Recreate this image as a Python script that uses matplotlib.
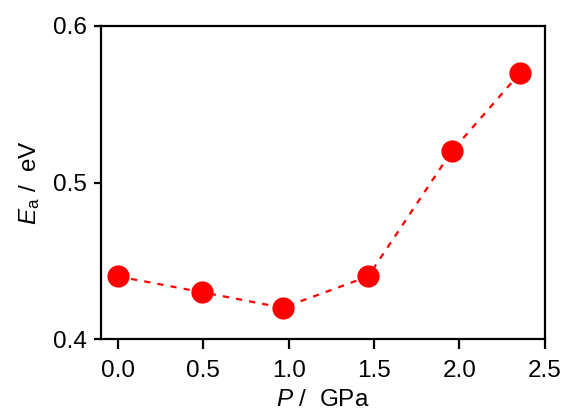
import matplotlib
matplotlib.use("Agg")
import matplotlib.pyplot as plt

pressure = [0.0, 0.49, 0.965, 1.465, 1.955, 2.355]
ea = [0.44, 0.43, 0.42, 0.44, 0.52, 0.57]
xticks = [0.0, 0.5, 1.0, 1.5, 2.0, 2.5]
yticks = [0.4, 0.5, 0.6]

plt.rcParams['font.family'] = ['Liberation Sans', 'DejaVu Sans']
plt.rcParams['mathtext.fontset'] = 'custom'
plt.rcParams['mathtext.it'] = 'Liberation Sans:italic'
plt.rcParams['mathtext.rm'] = 'Liberation Sans'

fig = plt.figure(figsize=(5.64, 4.12), dpi=100)
ax = fig.add_axes([0.179, 0.177, 0.787, 0.760])
ax.plot(pressure, ea, color='red', linestyle=(0, (2.8, 3.2)), linewidth=1.6,
        marker='o', markersize=16, markeredgewidth=0, zorder=3)
ax.set_xlim(-0.1, 2.5)
ax.set_ylim(0.4, 0.6)
ax.set_xticks(xticks)
ax.set_xticklabels([f"{v:.1f}" for v in xticks])
ax.set_yticks(yticks)
ax.set_yticklabels([f"{v:.1f}" for v in yticks])
for s in ax.spines.values():
    s.set_linewidth(1.6)
ax.tick_params(axis='x', direction='out', length=7, width=1.6, labelsize=17.5, pad=8)
ax.tick_params(axis='y', direction='out', length=5, width=1.6, labelsize=17.5, pad=5)
ax.set_xlabel(r"$P$ /  GPa", fontsize=17.5, labelpad=5)
ax.set_ylabel(r"$E_{\mathrm{a}}$ /  eV", fontsize=17.5, labelpad=8)
fig.savefig("out.png", dpi=100)
